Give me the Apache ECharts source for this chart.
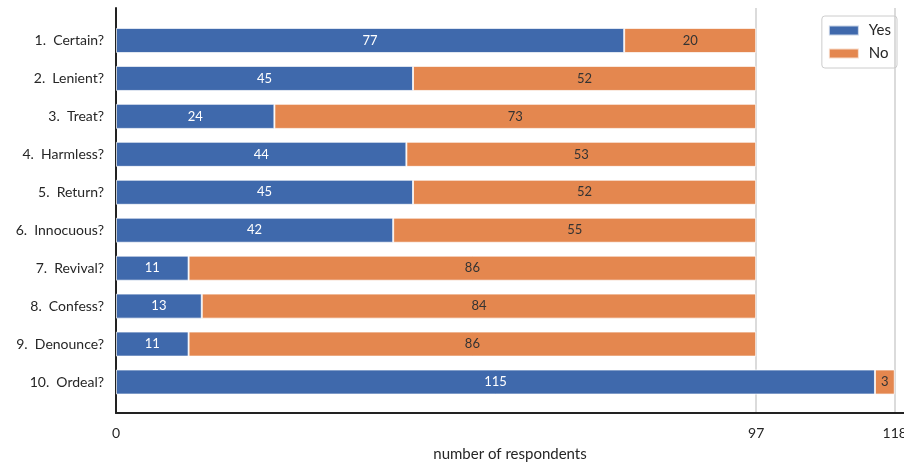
<!DOCTYPE html>
<html><head><meta charset="utf-8">
<script src="https://cdn.jsdelivr.net/npm/echarts@6/dist/echarts.min.js"></script>
<style>html,body{margin:0;padding:0;background:#fff}#c{width:904px;height:466px}</style>
</head><body><div id="c"></div>
<script>
const categories = ["1.  Certain?","2.  Lenient?","3.  Treat?","4.  Harmless?","5.  Return?","6.  Innocuous?","7.  Revival?","8.  Confess?","9.  Denounce?","10.  Ordeal?"];
const yesValues = [77,45,24,44,45,42,11,13,11,115];
const noValues = [20,52,73,53,52,55,86,84,86,3];
const xTicks = [0,97,118];
const X_MAX = 119.4;
const FONT = "Lato";
const chart = echarts.init(document.getElementById('c'));
chart.setOption({
  animation:false,
  textStyle:{fontFamily:FONT},
  legend:{
    orient:'vertical', right:7, top:16,
    data:['Yes','No'],
    itemWidth:30, itemHeight:10, itemGap:8,
    borderColor:'#cccccc', borderWidth:1, borderRadius:3,
    padding:[7,6,7,6],
    textStyle:{fontSize:15,color:'#262626',fontFamily:FONT,padding:[0,0,0,5]},
    icon:'rect'
  },
  grid:[
    {left:116,right:0,top:8,bottom:53,outerBoundsMode:'none',containLabel:false},
    {left:116,right:0,top:21.5,bottom:65,outerBoundsMode:'none',containLabel:false}
  ],
  xAxis:[
    {gridIndex:0,type:'value',min:0,max:X_MAX,
     axisLine:{show:true,lineStyle:{color:'#222',width:2}},
     axisTick:{show:false,customValues:xTicks},
     axisLabel:{customValues:xTicks,fontSize:14,color:'#262626',margin:13,fontFamily:FONT},
     splitLine:{show:true,lineStyle:{color:'#cfcfcf',width:1.5}},
     name:'number of respondents',nameLocation:'middle',nameGap:34,
     nameTextStyle:{fontSize:15,color:'#262626',fontFamily:FONT}},
    {gridIndex:1,type:'value',min:0,max:X_MAX,show:false}
  ],
  yAxis:[
    {gridIndex:0,type:'value',min:0,max:1,
     axisLine:{show:true,lineStyle:{color:'#222',width:2}},
     axisTick:{show:false},axisLabel:{show:false},splitLine:{show:false}},
    {gridIndex:1,type:'category',inverse:true,data:categories,
     axisLine:{show:false},axisTick:{show:false},
     axisLabel:{fontSize:14,color:'#262626',margin:12,fontFamily:FONT}}
  ],
  series:[
    {name:'Yes',type:'bar',stack:'s',xAxisIndex:1,yAxisIndex:1,barWidth:'66%',
     data:yesValues,
     itemStyle:{color:'#3f69ac',borderColor:'rgba(255,255,255,0.7)',borderWidth:1},
     label:{show:true,position:'inside',color:'#ffffff',fontSize:13,fontFamily:FONT}},
    {name:'No',type:'bar',stack:'s',xAxisIndex:1,yAxisIndex:1,barWidth:'66%',
     data:noValues,
     itemStyle:{color:'#e4874f',borderColor:'rgba(255,255,255,0.7)',borderWidth:1},
     label:{show:true,position:'inside',color:'#333333',fontSize:13,fontFamily:FONT}}
  ]
});
</script></body></html>
